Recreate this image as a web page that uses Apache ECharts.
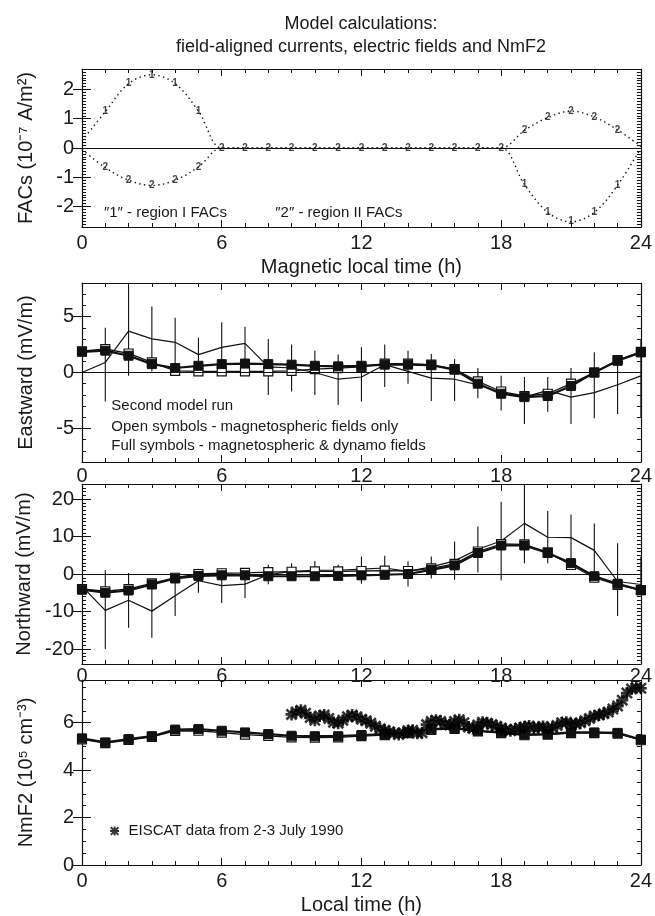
<!DOCTYPE html>
<html><head><meta charset="utf-8">
<script src="https://cdn.jsdelivr.net/npm/echarts@6/dist/echarts.min.js"></script>
<style>html,body{margin:0;padding:0;background:#fff}#c{width:655px;height:916px}</style>
</head><body><div id="c"></div>
<script>
// ---------- data ----------
const hours = [0,1,2,3,4,5,6,7,8,9,10,11,12,13,14,15,16,17,18,19,20,21,22,23,24];
const xTicks = [0,6,12,18,24];

// Panel 1: field-aligned currents (1e-7 A/m^2)
const fac1 = [0.25,1.24,2.2,2.5,2.2,1.26,0,0,0,0,0,0,0,0,0,0,0,0,0,-1.25,-2.2,-2.52,-2.2,-1.27,0];
const fac2 = [-0.05,-0.67,-1.1,-1.28,-1.1,-0.65,0,0,0,0,0,0,0,0,0,0,0,0,0,0.6,1.04,1.26,1.06,0.62,0.05];
const fac1Marks = [1,2,3,4,5,19,20,21,22,23];
const fac2Marks = [1,2,3,4,5,6,7,8,9,10,11,12,13,14,15,16,17,18,19,20,21,22,23];
const facTicks = [-2,-1,0,1,2];

// Panel 2: eastward field (mV/m)
const eObs = [0,0.9,3.7,3.0,2.7,1.6,2.25,2.6,0.5,0.4,0.0,-0.6,-0.4,0.7,0.1,-0.5,-0.6,-1.1,-1.8,-2.2,-1.6,-2.2,-1.8,-1.1,-0.3];
const eHi  = [null,4.0,7.7,5.9,4.9,3.1,4.5,4.1,3.0,2.5,1.95,1.6,2.25,2.5,1.95,1.65,1.2,0.4,-0.3,-0.4,-0.4,0.4,1.8,1.1,2.9];
const eLo  = [null,-2.6,-0.3,0.1,0.5,0.1,0.0,1.0,-2.0,-1.7,-2.0,-2.9,-2.6,-1.3,-1.0,-2.55,-2.55,-2.3,-3.4,-4.6,-3.5,-4.6,-4.1,-3.7,-4.0];
const eMag = [1.9,2.1,1.7,0.9,0.15,0.1,0.1,0.1,0.1,0.15,0.3,0.4,0.5,0.8,0.8,0.7,0.3,-0.8,-1.7,-2.1,-1.9,-1.0,0.0,1.1,1.85];
const eDyn = [1.85,1.95,1.5,0.75,0.4,0.6,0.75,0.8,0.75,0.7,0.6,0.55,0.6,0.7,0.7,0.65,0.25,-1.0,-1.9,-2.2,-2.1,-1.2,0.0,1.05,1.8];
const eTicks = [-5,0,5];

// Panel 3: northward field (mV/m)
const nObs = [-3.3,-9.7,-7.0,-9.9,-5.8,-1.8,-3.1,-2.7,-0.2,0.7,1.0,1.0,1.3,1.6,0.7,1.9,3.5,6.6,8.8,13.5,9.8,9.7,6.3,-2.0,-2.8];
const nHi  = [null,1.0,0.3,-2.5,-0.4,1.4,1.5,1.0,2.5,2.9,3.5,2.5,4.7,4.9,3.4,4.7,8.7,12.7,19.3,24,16.8,15.9,13.5,8.2,4.7];
const nLo  = [null,-20,-14.3,-17,-11.2,-5.0,-7.7,-6.4,-2.7,-1.5,-1.1,-0.6,-2.6,-1.5,-3.3,-1.2,-1.5,0.4,-1.7,2.9,2.9,2.7,-1.5,-11.2,-5.5];
const nMag = [-4.0,-4.6,-4.0,-2.5,-1.0,0.0,0.2,0.3,0.5,0.6,0.7,0.7,0.8,0.9,0.8,1.5,2.7,6.0,8.0,7.9,5.8,2.4,-1.0,-2.9,-4.3];
const nDyn = [-4.2,-5.0,-4.4,-2.8,-1.2,-0.5,-0.35,-0.35,-0.6,-0.6,-0.6,-0.5,-0.35,-0.2,0.0,1.1,2.3,5.6,7.6,7.6,5.6,2.9,-0.6,-2.6,-4.3];
const nTicks = [-20,-10,0,10,20];

// Panel 4: NmF2 (1e5 cm^-3)
const nmMag = [5.3,5.14,5.27,5.4,5.65,5.66,5.58,5.5,5.44,5.38,5.37,5.38,5.43,5.48,5.56,5.7,5.74,5.63,5.56,5.47,5.5,5.56,5.56,5.54,5.26];
const nmDyn = [5.34,5.17,5.31,5.43,5.71,5.73,5.66,5.59,5.52,5.45,5.43,5.43,5.48,5.52,5.6,5.73,5.77,5.66,5.59,5.5,5.52,5.59,5.59,5.57,5.29];
const eiscatT = [9.0,9.2,9.4,9.6,9.8,10.0,10.2,10.4,10.6,10.8,11.0,11.2,11.4,11.6,11.8,12.0,12.2,12.4,12.6,12.8,13.0,13.2,13.4,13.6,13.8,14.0,14.2,14.4,14.6,14.8,15.0,15.2,15.4,15.6,15.8,16.0,16.2,16.4,16.6,16.8,17.0,17.2,17.4,17.6,17.8,18.0,18.2,18.4,18.6,18.8,19.0,19.2,19.4,19.6,19.8,20.0,20.2,20.4,20.6,20.8,21.0,21.2,21.4,21.6,21.8,22.0,22.2,22.4,22.6,22.8,23.0,23.2,23.4,23.6,23.8,24.0];
const eiscatV = [6.35,6.45,6.52,6.40,6.22,6.10,6.28,6.32,6.18,6.02,5.98,6.10,6.25,6.32,6.25,6.15,6.08,5.98,5.85,5.74,5.68,5.62,5.55,5.50,5.58,5.66,5.68,5.55,5.58,5.92,6.05,6.10,6.05,5.95,5.90,6.05,6.12,6.00,5.82,5.76,5.90,6.02,5.98,5.92,5.85,5.78,5.70,5.66,5.72,5.78,5.82,5.86,5.78,5.80,5.84,5.76,5.80,5.88,6.00,6.02,5.95,5.94,6.00,6.08,6.18,6.28,6.32,6.38,6.45,6.58,6.70,6.95,7.25,7.42,7.48,7.45];
const nmTicks = [0,2,4,6];

// ---------- styling ----------
const FONT = '"Liberation Sans", Arial, Helvetica, sans-serif';
const TXT = '#1a1a1a';
const INK = '#111';
const ASTER = 'path://M3.9,0h2.2v10h-2.2z M0,3.9h10v2.2h-10z M1.5,0L10,8.5L8.5,10L0,1.5z M8.5,0L10,1.5L1.5,10L0,8.5z';

const grids = [
  {left:82, right:14, top:69, height:158},
  {left:82, right:14, top:283, height:179},
  {left:82, right:14, top:484, height:180},
  {left:82, right:14, top:680, height:187}
];
const ycfg = [
  {min:-2.7, max:2.7, minor:0.1, majors:facTicks, name:'FACs (10\u207B\u2077 A/m\u00B2)'},
  {min:-8, max:8, minor:1, majors:eTicks, name:'Eastward (mV/m)'},
  {min:-24, max:24, minor:1, majors:nTicks, name:'Northward (mV/m)'},
  {min:0, max:7.8, minor:0.5, majors:nmTicks, name:'NmF2 (10\u2075 cm\u207B\u00B3)'}
];
const xNames = ['Magnetic local time (h)', '', '', 'Local time (h)'];
const xMargins = [6, 4, 2, 6];

const xAxis = [], yAxis = [];
grids.forEach((g, p) => {
  xAxis.push({
    gridIndex:p, type:'value', min:0, max:24, interval:6, position:'bottom',
    name:xNames[p], nameLocation:'middle', nameGap:30,
    nameTextStyle:{fontSize:20, color:TXT, fontFamily:FONT},
    axisLine:{show:true, onZero:false, lineStyle:{color:INK, width:1.2}},
    axisTick:{show:true, inside:true, length:7, lineStyle:{color:INK}},
    minorTick:{show:true, splitNumber:6, length:4, lineStyle:{color:INK}},
    axisLabel:{show:true, fontSize:20, color:TXT, fontFamily:FONT, margin:xMargins[p], customValues:xTicks},
    splitLine:{show:false}, minorSplitLine:{show:false}
  });
  xAxis.push({
    gridIndex:p, type:'value', min:0, max:24, interval:6, position:'top',
    axisLine:{show:true, onZero:false, lineStyle:{color:INK, width:1.2}},
    axisTick:{show:true, inside:true, length:7, lineStyle:{color:INK}},
    minorTick:{show:true, splitNumber:6, length:4, lineStyle:{color:INK}},
    axisLabel:{show:false}, splitLine:{show:false}, minorSplitLine:{show:false}
  });
  const c = ycfg[p];
  const base = {gridIndex:p, type:'value', min:c.min, max:c.max, offset:0, splitLine:{show:false}};
  yAxis.push(Object.assign({}, base, {
    position:'left', interval:c.minor,
    name:c.name, nameLocation:'middle', nameGap:46,
    nameTextStyle:{fontSize:20, color:TXT, fontFamily:FONT},
    axisLine:{show:true, onZero:false, lineStyle:{color:INK, width:1.2}},
    axisTick:{show:true, inside:true, length:4, lineStyle:{color:INK}},
    axisLabel:{show:true, customValues:c.majors, fontSize:20, color:TXT, fontFamily:FONT, margin:8}
  }));
  yAxis.push(Object.assign({}, base, {
    position:'left', interval:c.minor,
    axisLine:{show:false},
    axisTick:{show:true, inside:true, length:9, customValues:c.majors, lineStyle:{color:INK}},
    axisLabel:{show:false}
  }));
  yAxis.push(Object.assign({}, base, {
    position:'right', interval:c.minor,
    axisLine:{show:true, onZero:false, lineStyle:{color:INK, width:1.2}},
    axisTick:{show:true, inside:true, length:4, lineStyle:{color:INK}},
    axisLabel:{show:false}
  }));
  yAxis.push(Object.assign({}, base, {
    position:'right', interval:c.minor,
    axisLine:{show:false},
    axisTick:{show:true, inside:true, length:9, customValues:c.majors, lineStyle:{color:INK}},
    axisLabel:{show:false}
  }));
});

const ax = p => ({xAxisIndex:p*2, yAxisIndex:p*4});
const pairs = arr => hours.map((h, i) => [h, arr[i]]);
const zeroLine = {silent:true, symbol:'none', label:{show:false},
  lineStyle:{color:INK, type:'solid', width:1.2}, data:[{yAxis:0}], animation:false};

function errBars(p, lo, hi) {
  return Object.assign({
    type:'custom', clip:true, z:2,
    data: hours.map((h, i) => lo[i] == null ? null : [h, lo[i], hi[i]]).filter(d => d),
    encode:{x:0, y:[1,2]},
    renderItem(params, api) {
      const a = api.coord([api.value(0), api.value(1)]);
      const b = api.coord([api.value(0), api.value(2)]);
      return {type:'line', shape:{x1:a[0], y1:a[1], x2:b[0], y2:b[1]},
        style:{stroke:INK, lineWidth:1.1}};
    }
  }, ax(p));
}
function obsLine(p, arr) {
  return Object.assign({type:'line', data:pairs(arr), symbol:'none', z:3,
    lineStyle:{color:INK, width:1.2}, markLine:zeroLine}, ax(p));
}
function openSq(p, arr) {
  return Object.assign({type:'line', data:pairs(arr), symbol:'rect', symbolSize:9, showAllSymbol:true, z:4,
    itemStyle:{color:'#fff', borderColor:INK, borderWidth:1.2},
    lineStyle:{color:INK, width:1.3}}, ax(p));
}
function fullSq(p, arr) {
  return Object.assign({type:'line', data:pairs(arr), symbol:'rect', symbolSize:9, showAllSymbol:true, z:5,
    itemStyle:{color:INK, borderColor:INK, borderWidth:1},
    lineStyle:{color:INK, width:2.2}}, ax(p));
}
function facLine(p, arr, withZero) {
  const s = Object.assign({type:'line', data:pairs(arr), symbol:'none', smooth:0.35, z:3,
    lineStyle:{color:INK, width:1.4, type:[1.4,3.4]}}, ax(p));
  if (withZero) s.markLine = zeroLine;
  return s;
}
function facMarks(p, arr, marks, txt) {
  return Object.assign({type:'scatter', symbol:'circle', symbolSize:1, z:6,
    itemStyle:{color:'rgba(0,0,0,0)'},
    data: marks.map(h => [h, arr[hours.indexOf(h)]]),
    label:{show:true, position:'inside', formatter:txt, fontSize:10, fontWeight:'bold',
      color:INK, fontFamily:FONT}}, ax(p));
}

const series = [
  facLine(0, fac1, true), facLine(0, fac2, false),
  facMarks(0, fac1, fac1Marks, '1'), facMarks(0, fac2, fac2Marks, '2'),

  errBars(1, eLo, eHi), obsLine(1, eObs), openSq(1, eMag), fullSq(1, eDyn),

  errBars(2, nLo, nHi), obsLine(2, nObs), openSq(2, nMag), fullSq(2, nDyn),

  openSq(3, nmMag), fullSq(3, nmDyn),
  Object.assign({type:'scatter', symbol:ASTER, symbolSize:12, z:7,
    itemStyle:{color:'#000'}, data: eiscatT.map((t, i) => [t, eiscatV[i]])}, ax(3)),
  Object.assign({type:'scatter', symbol:ASTER, symbolSize:9, z:7,
    itemStyle:{color:'#000'}, data:[[1.4, 1.43]]}, ax(3))
];

const chart = echarts.init(document.getElementById('c'), null, {renderer:'canvas'});
chart.setOption({
  animation:false, backgroundColor:'#fff',
  grid:grids, xAxis, yAxis, series
});

const notes = [
  [0, 0.94, -2.23, '\u2033' + '1' + '\u2033 - region I FACs'],
  [0, 8.3, -2.23, '\u2033' + '2' + '\u2033 - region II FACs'],
  [1, 1.26, -3.0, 'Second model run'],
  [1, 1.26, -4.9, 'Open symbols - magnetospheric fields only'],
  [1, 1.26, -6.6, 'Full symbols - magnetospheric & dynamo fields'],
  [3, 2.0, 1.43, 'EISCAT data from 2-3 July 1990']
];
const graphic = notes.map(n => {
  const pt = chart.convertToPixel(ax(n[0]), [n[1], n[2]]);
  return {type:'text', x:pt[0], y:pt[1], z:10,
    style:{text:n[3], fontSize:15, fontFamily:FONT, fill:TXT, verticalAlign:'middle'}};
});
graphic.push({type:'text', x:361, y:24, style:{text:'Model calculations:', fontSize:18, fontFamily:FONT, fill:TXT, align:'center', verticalAlign:'middle'}});
graphic.push({type:'text', x:361, y:47, style:{text:'field-aligned currents, electric fields and NmF2', fontSize:18, fontFamily:FONT, fill:TXT, align:'center', verticalAlign:'middle'}});
chart.setOption({graphic});
</script></body></html>
